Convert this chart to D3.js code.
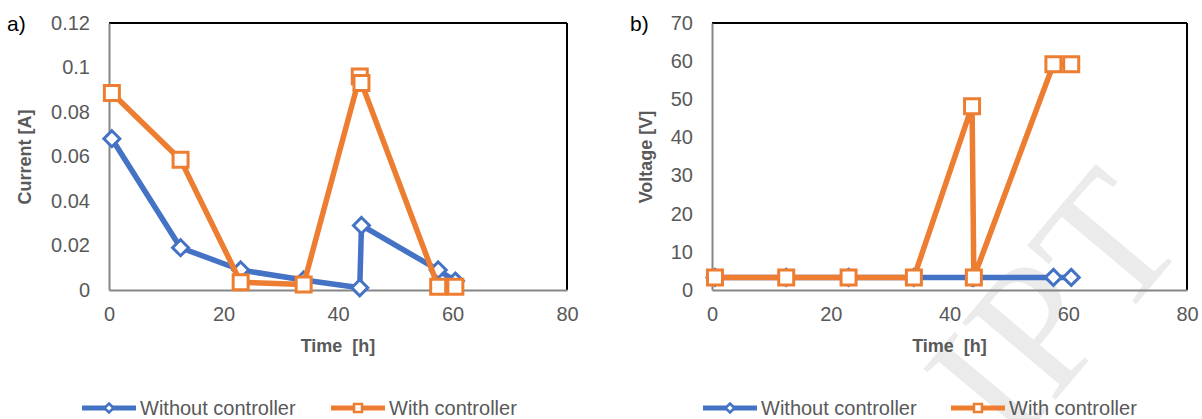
<!DOCTYPE html>
<head>
  <meta charset="utf-8">
  <script src="https://d3js.org/d3.v7.min.js"></script>
  <style>
    body { margin: 0; background: #fff; }
    text { font-family: "Liberation Sans", Arial, sans-serif; }
  </style>
</head>
<body>
<script type="text/javascript">
  var w = 1202;
  var h = 419;

  // data
  var hours = [0.5, 12.5, 23, 34, 43.8, 44.1, 57.5, 60.5];
  var currentWithout = [0.068, 0.019, 0.009, 0.0045, 0.001, 0.029, 0.009, 0.004];
  var currentWith = [0.0885, 0.0585, 0.0035, 0.0025, 0.096, 0.093, 0.0015, 0.0015];
  var voltageWithout = [3.3, 3.3, 3.3, 3.3, 3.3, 3.3, 3.3, 3.3];
  var voltageWith = [3.3, 3.3, 3.3, 3.3, 48.2, 3.3, 59.2, 59.2];

  var timeTicks = [0, 20, 40, 60, 80];
  var currentTicks = [0, 0.02, 0.04, 0.06, 0.08, 0.1, 0.12];
  var voltageTicks = [0, 10, 20, 30, 40, 50, 60, 70];
  var seriesNames = ["Without controller", "With controller"];

  var blue = "#4472C4";
  var orange = "#ED7D31";
  var grey = "#595959";

  var svg = d3.select("body")
    .append("svg")
    .attr("width", w)
    .attr("height", h);

  svg.append("rect").attr("width", w).attr("height", h).attr("fill", "#fff");

  // faint watermark, partly outside the page like in the scan
  svg.append("g")
    .attr("transform", "translate(1012,452) rotate(-50)")
    .append("text")
    .style("font-family", "'Liberation Serif', 'DejaVu Serif', serif")
    .attr("font-size", 185)
    .attr("fill", "#ebebeb")
    .text("IPT");

  function panel(opt) {
    var g = svg.append("g");

    var x = d3.scaleLinear().domain([0, 80]).range([opt.left, opt.right]);
    var y = d3.scaleLinear().domain([0, opt.ticks[opt.ticks.length - 1]]).range([290, 23]);

    // top and right frame
    g.append("line")
      .attr("x1", x(0)).attr("x2", x(80)).attr("y1", y.range()[1]).attr("y2", y.range()[1])
      .attr("stroke", "#000").attr("stroke-width", 2);
    g.append("line")
      .attr("x1", x(80)).attr("x2", x(80)).attr("y1", y.range()[1]).attr("y2", y.range()[0])
      .attr("stroke", "#000").attr("stroke-width", 2);

    var xAxis = g.append("g")
      .attr("transform", "translate(0," + y(0) + ")")
      .call(d3.axisBottom(x).tickValues(timeTicks).tickSize(0).tickPadding(17));
    var yAxis = g.append("g")
      .attr("transform", "translate(" + x(0) + ",0)")
      .call(d3.axisLeft(y).tickValues(opt.ticks).tickSize(0).tickPadding(19)
        .tickFormat(function(d){ return String(d); }));

    [xAxis, yAxis].forEach(function(a){
      a.select(".domain").attr("stroke", "#868686").attr("stroke-width", 2);
      a.selectAll("text")
        .attr("font-family", "Liberation Sans, Arial, sans-serif")
        .attr("font-size", 20)
        .attr("fill", grey);
    });

    // axis titles
    g.append("text")
      .attr("x", (opt.left + opt.right) / 2)
      .attr("y", 352)
      .attr("text-anchor", "middle")
      .attr("font-size", 18)
      .attr("font-weight", "bold")
      .attr("fill", grey)
      .style("white-space", "pre")
      .text("Time  [h]");

    g.append("text")
      .attr("transform", "translate(" + opt.titleX + ",157) rotate(-90)")
      .attr("text-anchor", "middle")
      .attr("font-size", 18)
      .attr("font-weight", "bold")
      .attr("fill", grey)
      .text(opt.title);

    g.append("text")
      .attr("x", opt.tagX)
      .attr("y", 31)
      .attr("font-size", 21)
      .attr("fill", "#000")
      .text(opt.tag);

    var line = d3.line()
      .x(function(d){ return x(d[0]); })
      .y(function(d){ return y(d[1]); });

    var series = [
      {vals: opt.without, color: blue, shape: "diamond"},
      {vals: opt.with, color: orange, shape: "square"}
    ];

    series.forEach(function(s){
      var pts = hours.map(function(t, i){ return [t, s.vals[i]]; });
      g.append("path")
        .datum(pts)
        .attr("d", line)
        .attr("fill", "none")
        .attr("stroke", s.color)
        .attr("stroke-width", 5.5)
        .attr("stroke-linejoin", "round");

      g.selectAll(null)
        .data(pts)
        .enter()
        .append("path")
        .attr("transform", function(d){ return "translate(" + x(d[0]) + "," + y(d[1]) + ")"; })
        .attr("d", s.shape === "square" ? "M-7.5,-7.5H7.5V7.5H-7.5Z" : "M0,-8L8,0L0,8L-8,0Z")
        .attr("fill", "#fff")
        .attr("stroke", s.color)
        .attr("stroke-width", 3);
    });

    // legend
    var lg = g.append("g").attr("transform", "translate(0,408)");
    var items = [
      {name: seriesNames[0], color: blue, shape: "diamond", x: opt.legendX[0]},
      {name: seriesNames[1], color: orange, shape: "square", x: opt.legendX[1]}
    ];
    items.forEach(function(it){
      lg.append("line")
        .attr("x1", it.x).attr("x2", it.x + 54)
        .attr("stroke", it.color).attr("stroke-width", 5);
      lg.append("path")
        .attr("transform", "translate(" + (it.x + 27) + ",0)")
        .attr("d", it.shape === "square" ? "M-4,-4H4V4H-4Z" : "M0,-4.5L4.5,0L0,4.5L-4.5,0Z")
        .attr("fill", "#fff")
        .attr("stroke", it.color)
        .attr("stroke-width", 2.5);
      lg.append("text")
        .attr("x", it.x + 58)
        .attr("y", 7)
        .attr("font-size", 20)
        .attr("fill", grey)
        .text(it.name);
    });
  }

  panel({
    left: 109, right: 567, ticks: currentTicks,
    without: currentWithout, with: currentWith,
    title: "Current [A]", titleX: 31, tag: "a)", tagX: 7,
    legendX: [82, 331]
  });

  panel({
    left: 712, right: 1187, ticks: voltageTicks,
    without: voltageWithout, with: voltageWith,
    title: "Voltage [V]", titleX: 652, tag: "b)", tagX: 630,
    legendX: [703, 951]
  });
</script>
</body>
